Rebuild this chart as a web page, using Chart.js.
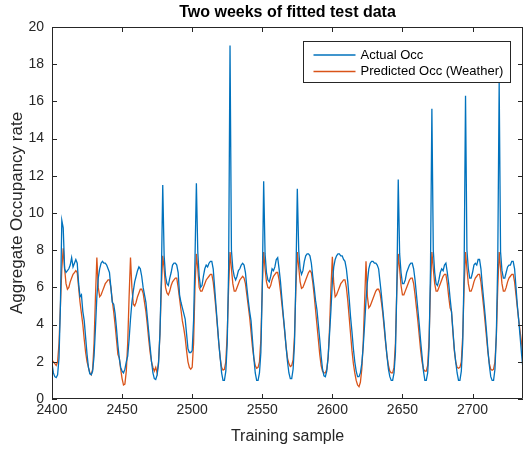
<!DOCTYPE html>
<html>
<head>
<meta charset="utf-8">
<script src="https://cdn.jsdelivr.net/npm/chart.js@4.4.1/dist/chart.umd.min.js"></script>
<style>
  body { margin: 0; background: #fff; }
</style>
</head>
<body>
<canvas id="canvas" width="524" height="452"></canvas>
<script>
// first sample on the x axis (hourly samples, two weeks)
const firstSample = 2400;

// Actual Occ, one line per day (24 samples), last line has the closing sample
const actualOcc = [
  1.9, 1.4, 1.2, 1.15, 1.3, 2.2, 5.0, 9.6, 9.2, 7.0, 6.8, 6.9, 7.0, 7.2, 7.6, 7.1, 7.3, 7.5, 7.3, 6.2, 5.5, 5.6, 4.7, 4.2,
  3.3, 2.4, 1.7, 1.35, 1.3, 1.5, 2.3, 3.8, 5.5, 6.5, 7.0, 7.3, 7.4, 7.3, 7.3, 7.2, 7.0, 6.8, 6.0, 5.2, 5.1, 4.6, 3.8, 2.9,
  2.2, 1.7, 1.5, 1.4, 1.6, 2.0, 2.3, 3.2, 4.3, 5.2, 5.8, 6.3, 6.6, 6.9, 7.1, 7.0, 6.6, 6.0, 5.6, 5.2, 4.4, 3.6, 2.8, 2.0,
  1.4, 1.1, 1.05, 1.3, 1.9, 3.5, 6.5, 11.5, 7.7, 6.6, 6.2, 6.1, 6.5, 6.8, 7.2, 7.3, 7.3, 7.2, 6.8, 5.6, 5.2, 4.9, 4.6, 4.3,
  3.5, 2.7, 2.5, 2.5, 2.6, 4.2, 7.5, 11.6, 7.9, 6.6, 6.0, 6.1, 6.6, 7.0, 7.2, 7.1, 7.3, 7.4, 7.4, 7.0, 6.0, 5.0, 4.0, 3.0,
  2.2, 1.4, 1.0, 1.0, 1.5, 3.0, 7.0, 19.0, 8.0, 7.0, 6.6, 6.4, 6.6, 6.9, 7.0, 7.2, 7.3, 7.2, 6.8, 6.0, 5.3, 4.7, 4.2, 3.2,
  2.2, 1.4, 1.0, 1.0, 1.4, 2.5, 6.0, 11.7, 7.8, 6.8, 6.4, 6.3, 6.6, 7.0, 6.9, 7.1, 7.5, 7.6, 7.0, 6.3, 5.4, 4.5, 3.7, 2.8,
  2.0, 1.4, 1.1, 1.1, 1.6, 3.0, 6.5, 11.3, 8.0, 7.0, 6.7, 6.9, 7.4, 7.7, 7.8, 7.8, 7.7, 7.3, 6.6, 6.0, 5.3, 4.8, 4.0, 3.2,
  2.3, 1.6, 1.25, 1.2, 1.5, 2.3, 3.5, 4.8, 6.3, 7.1, 7.5, 7.7, 7.8, 7.8, 7.7, 7.7, 7.5, 7.4, 7.0, 6.3, 5.4, 4.4, 3.6, 2.7,
  2.0, 1.5, 1.2, 1.2, 1.4, 1.9, 2.8, 4.0, 5.3, 6.3, 7.0, 7.3, 7.4, 7.4, 7.3, 7.3, 7.2, 7.0, 6.3, 5.6, 4.8, 4.0, 3.1, 2.3,
  1.6, 1.2, 1.0, 1.0, 1.4, 2.5, 6.0, 11.8, 7.8, 6.8, 6.2, 6.2, 6.4, 6.8, 7.0, 7.2, 7.3, 7.3, 7.0, 6.4, 5.6, 4.8, 4.0, 3.1,
  2.3, 1.5, 1.0, 1.0, 1.4, 2.8, 7.0, 15.6, 8.0, 6.8, 6.2, 6.1, 6.4, 6.8, 7.0, 6.9, 7.2, 7.3, 6.8, 6.2, 5.4, 4.7, 3.7, 2.7,
  2.0, 1.4, 1.0, 1.0, 1.5, 3.0, 7.0, 16.3, 8.0, 7.0, 6.5, 6.5, 6.8, 7.2, 7.3, 7.2, 7.5, 7.5, 7.0, 6.1, 5.3, 4.5, 3.6, 2.6,
  1.8, 1.2, 1.0, 1.0, 1.6, 3.5, 7.5, 17.0, 7.9, 6.9, 6.5, 6.5, 6.8, 7.1, 7.2, 7.2, 7.4, 7.4, 7.0, 6.0, 5.0, 4.2, 3.3, 2.4,
  1.6
];

// Predicted Occ (Weather), same layout
const predictedOcc = [
  2.1, 2.0, 1.9, 1.8, 2.0, 3.0, 5.0, 7.0, 8.1, 7.0, 6.2, 5.9, 6.0, 6.3, 6.5, 6.7, 6.8, 6.9, 6.8, 6.0, 5.2, 4.6, 4.0, 3.2,
  2.5, 2.0, 1.7, 1.4, 1.3, 1.6, 3.0, 5.5, 7.6, 6.0, 5.5, 5.6, 5.8, 6.0, 6.2, 6.3, 6.4, 6.4, 6.0, 5.3, 4.7, 4.0, 3.2, 2.4,
  2.2, 1.6, 1.1, 0.75, 0.8, 1.5, 3.0, 5.5, 7.6, 6.0, 5.1, 5.0, 5.2, 5.5, 5.7, 5.9, 5.9, 5.7, 5.2, 4.7, 4.0, 3.2, 2.5, 2.0,
  1.7, 1.5, 1.7, 1.4, 2.0, 3.5, 6.0, 7.7, 7.0, 6.0, 5.7, 5.6, 5.8, 6.1, 6.3, 6.4, 6.5, 6.5, 6.0, 5.4, 4.8, 4.2, 3.8, 3.3,
  2.6, 2.0, 1.7, 1.6, 1.7, 3.0, 6.0, 7.8, 7.0, 6.0, 5.8, 5.8, 6.0, 6.2, 6.4, 6.5, 6.6, 6.7, 6.7, 6.3, 5.6, 4.8, 3.9, 3.0,
  2.2, 1.7, 1.55, 1.6, 2.0, 3.5, 6.0, 7.9, 7.0, 6.2, 5.8, 5.8, 6.0, 6.2, 6.4, 6.5, 6.6, 6.5, 6.2, 5.6, 5.0, 4.4, 3.6, 2.8,
  2.2, 1.8, 1.65, 1.7, 2.0, 3.2, 6.0, 7.9, 7.0, 6.3, 6.0, 5.95, 6.1, 6.4, 6.6, 6.7, 6.8, 6.8, 6.4, 5.8, 5.1, 4.4, 3.6, 2.8,
  2.2, 1.9, 1.75, 1.8, 2.1, 3.4, 6.0, 7.9, 7.1, 6.3, 5.95, 6.0, 6.2, 6.4, 6.6, 6.8, 6.9, 6.8, 6.3, 5.6, 4.8, 4.0, 3.2, 2.4,
  1.8, 1.5, 1.4, 1.4, 1.6, 2.2, 3.8, 6.0, 7.65, 6.2, 5.5, 5.6, 5.8, 6.0, 6.2, 6.3, 6.4, 6.4, 6.0, 5.3, 4.4, 3.5, 2.6, 1.9,
  1.4, 1.0, 0.75, 0.66, 0.9, 1.6, 3.0, 5.2, 7.4, 5.5, 4.9, 5.0, 5.2, 5.4, 5.6, 5.8, 5.9, 5.9, 5.7, 5.2, 4.6, 3.8, 3.0, 2.3,
  1.8, 1.5, 1.4, 1.4, 1.7, 3.0, 6.0, 7.8, 7.0, 6.1, 5.6, 5.6, 5.8, 6.0, 6.2, 6.4, 6.5, 6.5, 6.2, 5.6, 4.9, 4.2, 3.4, 2.6,
  2.0, 1.6, 1.5, 1.5, 1.8, 3.2, 6.0, 7.9, 7.0, 6.2, 5.8, 5.8, 6.0, 6.2, 6.4, 6.6, 6.7, 6.7, 6.2, 5.5, 4.9, 4.7, 3.6, 2.6,
  2.0, 1.7, 1.65, 1.7, 2.0, 3.4, 6.0, 7.9, 7.0, 6.2, 5.8, 5.8, 6.0, 6.3, 6.5, 6.6, 6.7, 6.7, 6.3, 5.6, 4.9, 4.1, 3.3, 2.5,
  1.9, 1.6, 1.55, 1.6, 2.0, 3.4, 6.0, 7.9, 7.0, 6.2, 5.8, 5.8, 6.0, 6.3, 6.5, 6.6, 6.7, 6.7, 6.3, 5.6, 4.9, 4.2, 3.6, 3.0,
  2.3
];

const seriesNames = ['Actual Occ', 'Predicted Occ (Weather)'];
const seriesColors = ['#0072BD', '#D95319'];

const xMin = 2400, xMax = 2736, xStep = 50;
const yMin = 0, yMax = 20, yStep = 2;

const axisColor = '#262626';
const fontFamily = '"Liberation Sans", Arial, Helvetica, sans-serif';

const toPoints = (vals) => vals.map((v, i) => ({ x: firstSample + i, y: v }));

// matlab-like box, inward ticks on all four sides, boxed legend
const matlabBox = {
  id: 'matlabBox',
  afterDraw(chart) {
    const { ctx, chartArea: a, scales: { x, y } } = chart;
    const len = 5;
    ctx.save();
    ctx.strokeStyle = axisColor;
    ctx.lineWidth = 1;
    ctx.beginPath();
    ctx.rect(Math.round(a.left) + 0.5, Math.round(a.top) + 0.5,
      Math.round(a.width) - 1, Math.round(a.height) - 1);
    x.ticks.forEach((t, i) => {
      const px = Math.round(x.getPixelForTick(i)) + 0.5;
      ctx.moveTo(px, a.bottom); ctx.lineTo(px, a.bottom - len);
      ctx.moveTo(px, a.top); ctx.lineTo(px, a.top + len);
    });
    y.ticks.forEach((t, i) => {
      const py = Math.round(y.getPixelForTick(i)) + 0.5;
      ctx.moveTo(a.left, py); ctx.lineTo(a.left + len, py);
      ctx.moveTo(a.right, py); ctx.lineTo(a.right - len, py);
    });
    ctx.stroke();

    // legend
    const bw = 207, bh = 41;
    const bx = Math.round(a.right) - 13 - bw + 0.5;
    const by = Math.round(a.top) + 14 + 0.5;
    ctx.fillStyle = '#fff';
    ctx.fillRect(bx, by, bw, bh);
    ctx.strokeStyle = axisColor;
    ctx.strokeRect(bx, by, bw, bh);
    ctx.font = '13px ' + fontFamily;
    ctx.textBaseline = 'middle';
    chart.data.datasets.forEach((ds, i) => {
      const ly = by + 13.5 + i * 16.5;
      ctx.strokeStyle = ds.borderColor;
      ctx.lineWidth = 1.3;
      ctx.beginPath();
      ctx.moveTo(bx + 10, ly); ctx.lineTo(bx + 52, ly);
      ctx.stroke();
      ctx.fillStyle = '#000';
      ctx.fillText(ds.label, bx + 57, ly);
    });
    ctx.restore();
  }
};

const config = {
  type: 'line',
  data: {
    datasets: [
      {
        label: seriesNames[0],
        data: toPoints(actualOcc),
        borderColor: seriesColors[0],
        backgroundColor: seriesColors[0],
        borderWidth: 1.3,
        pointRadius: 0,
        fill: false,
      },
      {
        label: seriesNames[1],
        data: toPoints(predictedOcc),
        borderColor: seriesColors[1],
        backgroundColor: seriesColors[1],
        borderWidth: 1.3,
        pointRadius: 0,
        fill: false,
      },
    ],
  },
  options: {
    responsive: false,
    animation: false,
    layout: { padding: { left: 0, right: 1, top: 0, bottom: 0 } },
    plugins: {
      legend: { display: false },
      tooltip: { enabled: false },
      title: {
        display: true,
        fullSize: false,
        text: 'Two weeks of fitted test data',
        color: '#000',
        font: { family: fontFamily, size: 16, weight: 'bold' },
        padding: { top: 3, bottom: 4.8 },
      },
    },
    scales: {
      x: {
        type: 'linear',
        min: xMin,
        max: xMax,
        afterFit: (s) => { s.height = 53; },
        afterBuildTicks: (s) => {
          s.ticks = [];
          for (let v = xMin; v <= xMax; v += xStep) s.ticks.push({ value: v });
        },
        ticks: {
          color: axisColor,
          font: { family: fontFamily, size: 14 },
          padding: 3,
          maxRotation: 0,
          autoSkip: false,
          callback: (v) => String(v),
        },
        grid: { display: false, drawTicks: false },
        border: { display: false },
        title: {
          display: true,
          text: 'Training sample',
          color: axisColor,
          font: { family: fontFamily, size: 16 },
          padding: { top: 0, bottom: 6 },
        },
      },
      y: {
        min: yMin,
        max: yMax,
        afterFit: (s) => { s.width = 52; },
        ticks: {
          stepSize: yStep,
          color: axisColor,
          font: { family: fontFamily, size: 14 },
          padding: 8,
        },
        grid: { display: false, drawTicks: false },
        border: { display: false },
        title: {
          display: true,
          text: 'Aggregate Occupancy rate',
          color: axisColor,
          font: { family: fontFamily, size: 17 },
          padding: { top: 7, bottom: 0 },
        },
      },
    },
  },
  plugins: [matlabBox],
};

const ctx = document.getElementById('canvas').getContext('2d');
window.myLine = new Chart(ctx, config);
</script>
</body>
</html>
